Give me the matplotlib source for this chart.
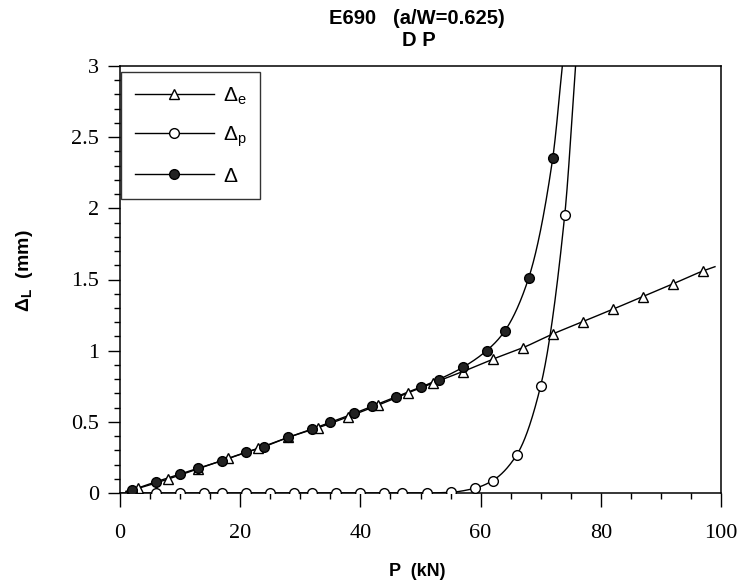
import numpy as np
import matplotlib
matplotlib.use("Agg")
import matplotlib.pyplot as plt
from matplotlib.ticker import MultipleLocator

# ---- data ----
# elastic component (triangles)
p_e = [3, 8, 13, 18, 23, 28, 33, 38, 43, 48, 52, 57, 62, 67, 72, 77, 82, 87, 92, 97]
d_e = [0.033, 0.098, 0.170, 0.244, 0.314, 0.391, 0.459, 0.536, 0.618, 0.705,
       0.771, 0.852, 0.940, 1.020, 1.117, 1.204, 1.291, 1.380, 1.469, 1.560]
# plastic component (open circles)
p_p = [2, 6, 10, 14, 17, 21, 25, 29, 32, 36, 40, 44, 47, 51, 55, 59, 62, 66, 70, 74]
d_p = [0, 0, 0, 0, 0, 0, 0, 0, 0, 0, 0, 0, 0, 0, 0.005, 0.033, 0.087, 0.267, 0.754, 1.954]
# total (filled circles)
p_t = [2, 6, 10, 13, 17, 21, 24, 28, 32, 35, 39, 42, 46, 50, 53, 57, 61, 64, 68, 72]
d_t = [0.021, 0.079, 0.133, 0.174, 0.227, 0.286, 0.326, 0.391, 0.450, 0.497,
       0.560, 0.611, 0.677, 0.743, 0.797, 0.882, 1.000, 1.137, 1.511, 2.352]

# fitted-curve end points (where each line starts/ends)
e_curve_start = (1.0, 0.012)
e_curve_end = (99.0, 1.590)
p_curve_start = (0.0, 0.0)
p_curve_end = (75.8, 3.0)
t_curve_start = (1.0, 0.008)
t_curve_end = (73.6, 3.0)

legend_labels = [r'$\Delta_{\mathrm{e}}$', r'$\Delta_{\mathrm{p}}$', r'$\Delta$']
title_line1 = "E690   (a/W=0.625)"
title_line2 = "D P"
x_label = "P  (kN)"
y_label = r'$\mathbf{\Delta_{L}}$  (mm)'


def pchip(x, y, xn):
    x = np.asarray(x, float)
    y = np.asarray(y, float)
    h = np.diff(x)
    d = np.diff(y) / h
    n = len(x)
    m = np.zeros(n)
    for k in range(1, n - 1):
        if d[k - 1] * d[k] <= 0:
            m[k] = 0.0
        else:
            w1 = 2 * h[k] + h[k - 1]
            w2 = h[k] + 2 * h[k - 1]
            m[k] = (w1 + w2) / (w1 / d[k - 1] + w2 / d[k])
    m[0] = d[0]
    m[-1] = d[-1]
    idx = np.clip(np.searchsorted(x, xn) - 1, 0, n - 2)
    t = (xn - x[idx]) / h[idx]
    h00 = 2 * t**3 - 3 * t**2 + 1
    h10 = t**3 - 2 * t**2 + t
    h01 = -2 * t**3 + 3 * t**2
    h11 = t**3 - t**2
    return h00 * y[idx] + h10 * h[idx] * m[idx] + h01 * y[idx + 1] + h11 * h[idx] * m[idx + 1]


def smooth(xs, ys, start, end):
    X = [start[0]] + list(xs) + [end[0]]
    Y = [start[1]] + list(ys) + [end[1]]
    xn = np.linspace(X[0], X[-1], 1500)
    return xn, pchip(X, Y, xn)


plt.rcParams['font.family'] = ['Liberation Sans', 'DejaVu Sans']
plt.rcParams['mathtext.fontset'] = 'custom'
plt.rcParams['mathtext.rm'] = 'Liberation Sans'
plt.rcParams['mathtext.it'] = 'Liberation Sans:italic'
plt.rcParams['mathtext.bf'] = 'Liberation Sans:bold'

fig = plt.figure(figsize=(7.45, 5.84), dpi=100)
ax = fig.add_axes([120 / 745, 1 - 493 / 584, 601 / 745, 427 / 584])

lw = 1.0
# lines
xe, ye = smooth(p_e, d_e, e_curve_start, e_curve_end)
xp, yp = smooth(p_p, d_p, p_curve_start, p_curve_end)
xt, yt = smooth(p_t, d_t, t_curve_start, t_curve_end)
ax.plot(xe, ye, color='black', lw=lw, zorder=2)
ax.plot(xp, yp, color='black', lw=lw, zorder=2)
ax.plot(xt, yt, color='black', lw=lw, zorder=2)

# markers
ax.plot(p_e, d_e, linestyle='none', marker='^', ms=7.5, mfc='white', mec='black', mew=1.0, zorder=3)
ax.plot(p_p, d_p, linestyle='none', marker='o', ms=7, mfc='white', mec='black', mew=1.0, zorder=3)
ax.plot(p_t, d_t, linestyle='none', marker='o', ms=7, mfc='#222222', mec='black', mew=1.0, zorder=4)

# legend proxies
h1, = ax.plot([], [], color='black', lw=lw, marker='^', ms=7, mfc='white', mec='black')
h2, = ax.plot([], [], color='black', lw=lw, marker='o', ms=7, mfc='white', mec='black')
h3, = ax.plot([], [], color='black', lw=lw, marker='o', ms=7, mfc='#222222', mec='black')
leg = ax.legend([h1, h2, h3], legend_labels, loc='upper left',
                bbox_to_anchor=(0.002, 0.986), fontsize=15, handlelength=3.8,
                labelspacing=0.85, handletextpad=0.45, borderpad=0.65,
                fancybox=False, frameon=True, borderaxespad=0)
leg.get_frame().set_edgecolor('black')
leg.get_frame().set_linewidth(1.0)

ax.set_xlim(0, 100)
ax.set_ylim(0, 3)
ax.xaxis.set_major_locator(MultipleLocator(20))
ax.xaxis.set_minor_locator(MultipleLocator(5))
ax.yaxis.set_minor_locator(MultipleLocator(0.1))
ax.set_yticks([0, 0.5, 1, 1.5, 2, 2.5, 3])
ax.set_yticklabels(['0', '0.5', '1', '1.5', '2', '2.5', '3'])
ax.tick_params(which='major', direction='out', length=9, width=1.0, labelsize=16, pad=6)
ax.tick_params(axis='x', which='major', length=10, pad=12)
ax.tick_params(which='minor', direction='out', length=4.5, width=1.0)
for lab in ax.get_xticklabels() + ax.get_yticklabels():
    lab.set_fontfamily('Liberation Serif')
for s in ax.spines.values():
    s.set_linewidth(1.1)

ax.set_xlabel(x_label, fontsize=13, fontweight='bold')
ax.xaxis.set_label_coords(0.494, -0.165)
ax.xaxis.label.set_va('top')
ax.set_ylabel(y_label, fontsize=14, fontweight='bold')
ax.yaxis.set_label_coords(-0.142, 0.52)
fig.text(417 / 745, 1 - 18 / 584, title_line1, ha='center', va='center',
         fontsize=14.5, fontweight='bold')
fig.text(419 / 745, 1 - 40 / 584, title_line2, ha='center', va='center',
         fontsize=14.5, fontweight='bold')

fig.savefig('out.png', dpi=100)
